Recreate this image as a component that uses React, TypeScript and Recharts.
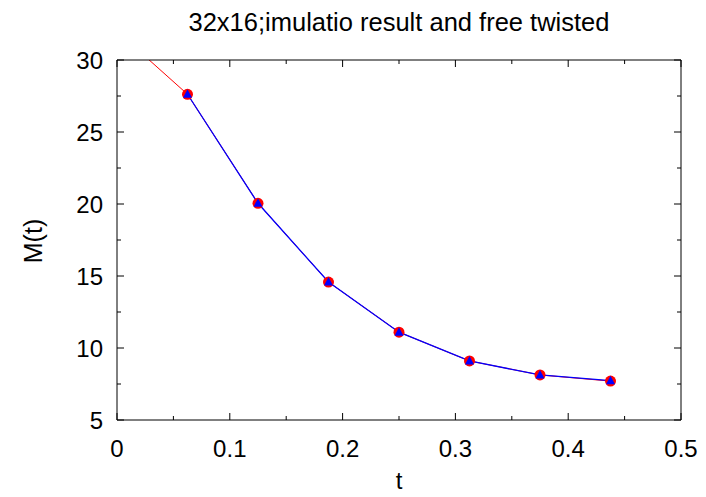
import { Line, LineChart, XAxis, YAxis } from 'recharts'

const FONT = '"Liberation Sans", Arial, Helvetica, sans-serif'

// simulation points (blue triangles)
const simT = [0.0625, 0.125, 0.1875, 0.25, 0.3125, 0.375, 0.4375]
const simM = [27.62, 20.05, 14.58, 11.1, 9.1, 8.13, 7.73]

// free twisted curve (red), starts above the plot and gets clipped
const freeT = [0, 0.0625, 0.125, 0.1875, 0.25, 0.3125, 0.375, 0.4375]
const freeM = [32.0, 27.62, 20.05, 14.58, 11.1, 9.1, 8.13, 7.7]

const xTicks = [0, 0.05, 0.1, 0.15, 0.2, 0.25, 0.3, 0.35, 0.4, 0.45, 0.5]
const yTicks = [5, 7.5, 10, 12.5, 15, 17.5, 20, 22.5, 25, 27.5, 30]

const simData = simT.map((t, i) => ({ t, m: simM[i] }))
const freeData = freeT.map((t, i) => ({ t, m: freeM[i] }))

const isMajorX = (v: number) => Math.abs(v * 10 - Math.round(v * 10)) < 1e-6
const isMajorY = (v: number) => Math.abs(v / 5 - Math.round(v / 5)) < 1e-6

const MAJOR = 7
const MINOR = 4
const PLOT_H = 360

function BottomTick({ x, y, payload }: any) {
  const major = isMajorX(payload.value)
  const len = major ? MAJOR : MINOR
  return (
    <g>
      <line x1={x} x2={x} y1={y} y2={y - len} stroke="#000" />
      <line x1={x} x2={x} y1={y - PLOT_H} y2={y - PLOT_H + len} stroke="#000" />
      {major && (
        <text x={x} y={y + 28} textAnchor="middle" dominantBaseline="central" fontSize={24} fontFamily={FONT} fill="#000">
          {String(Math.round(payload.value * 10) / 10)}
        </text>
      )}
    </g>
  )
}

function LeftTick({ x, y, payload }: any) {
  const major = isMajorY(payload.value)
  return (
    <g>
      <line x1={x} x2={x + (major ? MAJOR : MINOR)} y1={y} y2={y} stroke="#000" />
      {major && (
        <text x={x - 14} y={y} textAnchor="end" dominantBaseline="central" fontSize={24} fontFamily={FONT} fill="#000">
          {String(payload.value)}
        </text>
      )}
    </g>
  )
}

function RightTick({ x, y, payload }: any) {
  const major = isMajorY(payload.value)
  return <line x1={x} x2={x - (major ? MAJOR : MINOR)} y1={y} y2={y} stroke="#000" />
}

function Triangle({ cx, cy }: any) {
  if (cx == null || cy == null) return null
  return <polygon points={`${cx},${cy - 5} ${cx - 4.5},${cy + 3.5} ${cx + 4.5},${cy + 3.5}`} fill="#0000ff" />
}

export default function App() {
  return (
    <div style={{ position: 'absolute', left: 0, top: 0, width: 706, height: 497, background: '#fff' }}>
      <div
        style={{
          position: 'absolute',
          left: 117,
          width: 564,
          top: 8,
          lineHeight: '28px',
          textAlign: 'center',
          fontFamily: FONT,
          fontSize: 25.5,
          color: '#000',
        }}
      >
        32x16;imulatio result and free twisted
      </div>
      <LineChart width={706} height={497} margin={{ top: 59, right: 24, left: 0, bottom: 0 }}>
        <XAxis
          dataKey="t"
          type="number"
          domain={[0, 0.5]}
          ticks={xTicks}
          interval={0}
          height={77}
          tickSize={0}
          tickMargin={0}
          tickLine={false}
          axisLine={{ stroke: '#000' }}
          tick={<BottomTick />}
          label={{
            content: () => (
              <text x={399} y={480} textAnchor="middle" dominantBaseline="central" fontSize={24} fontFamily={FONT} fill="#000">
                t
              </text>
            ),
          }}
        />
        <XAxis
          xAxisId="top"
          orientation="top"
          dataKey="t"
          type="number"
          domain={[0, 0.5]}
          ticks={xTicks}
          interval={0}
          height={1}
          tickSize={0}
          tickMargin={0}
          tickLine={false}
          axisLine={{ stroke: '#000' }}
          tick={false}
        />
        <YAxis
          type="number"
          domain={[5, 30]}
          allowDataOverflow
          ticks={yTicks}
          interval={0}
          width={117}
          tickSize={0}
          tickMargin={0}
          tickLine={false}
          axisLine={{ stroke: '#000' }}
          tick={<LeftTick />}
          label={{
            content: () => (
              <text
                x={33}
                y={241}
                transform="rotate(-90 33 241)"
                textAnchor="middle"
                dominantBaseline="central"
                fontSize={25}
                fontFamily={FONT}
                fill="#000"
              >
                M(t)
              </text>
            ),
          }}
        />
        <YAxis
          yAxisId="right"
          orientation="right"
          type="number"
          domain={[5, 30]}
          allowDataOverflow
          ticks={yTicks}
          interval={0}
          width={1}
          tickSize={0}
          tickMargin={0}
          tickLine={false}
          axisLine={{ stroke: '#000' }}
          tick={<RightTick />}
        />
        <Line
          data={freeData}
          dataKey="m"
          type="linear"
          stroke="#ff0000"
          strokeWidth={1}
          dot={{ r: 5.5, fill: '#ff0000', stroke: 'none' }}
          activeDot={false}
          isAnimationActive={false}
        />
        <Line
          data={simData}
          dataKey="m"
          type="linear"
          stroke="#0000ff"
          strokeWidth={1.3}
          dot={<Triangle />}
          activeDot={false}
          isAnimationActive={false}
        />
      </LineChart>
    </div>
  )
}
